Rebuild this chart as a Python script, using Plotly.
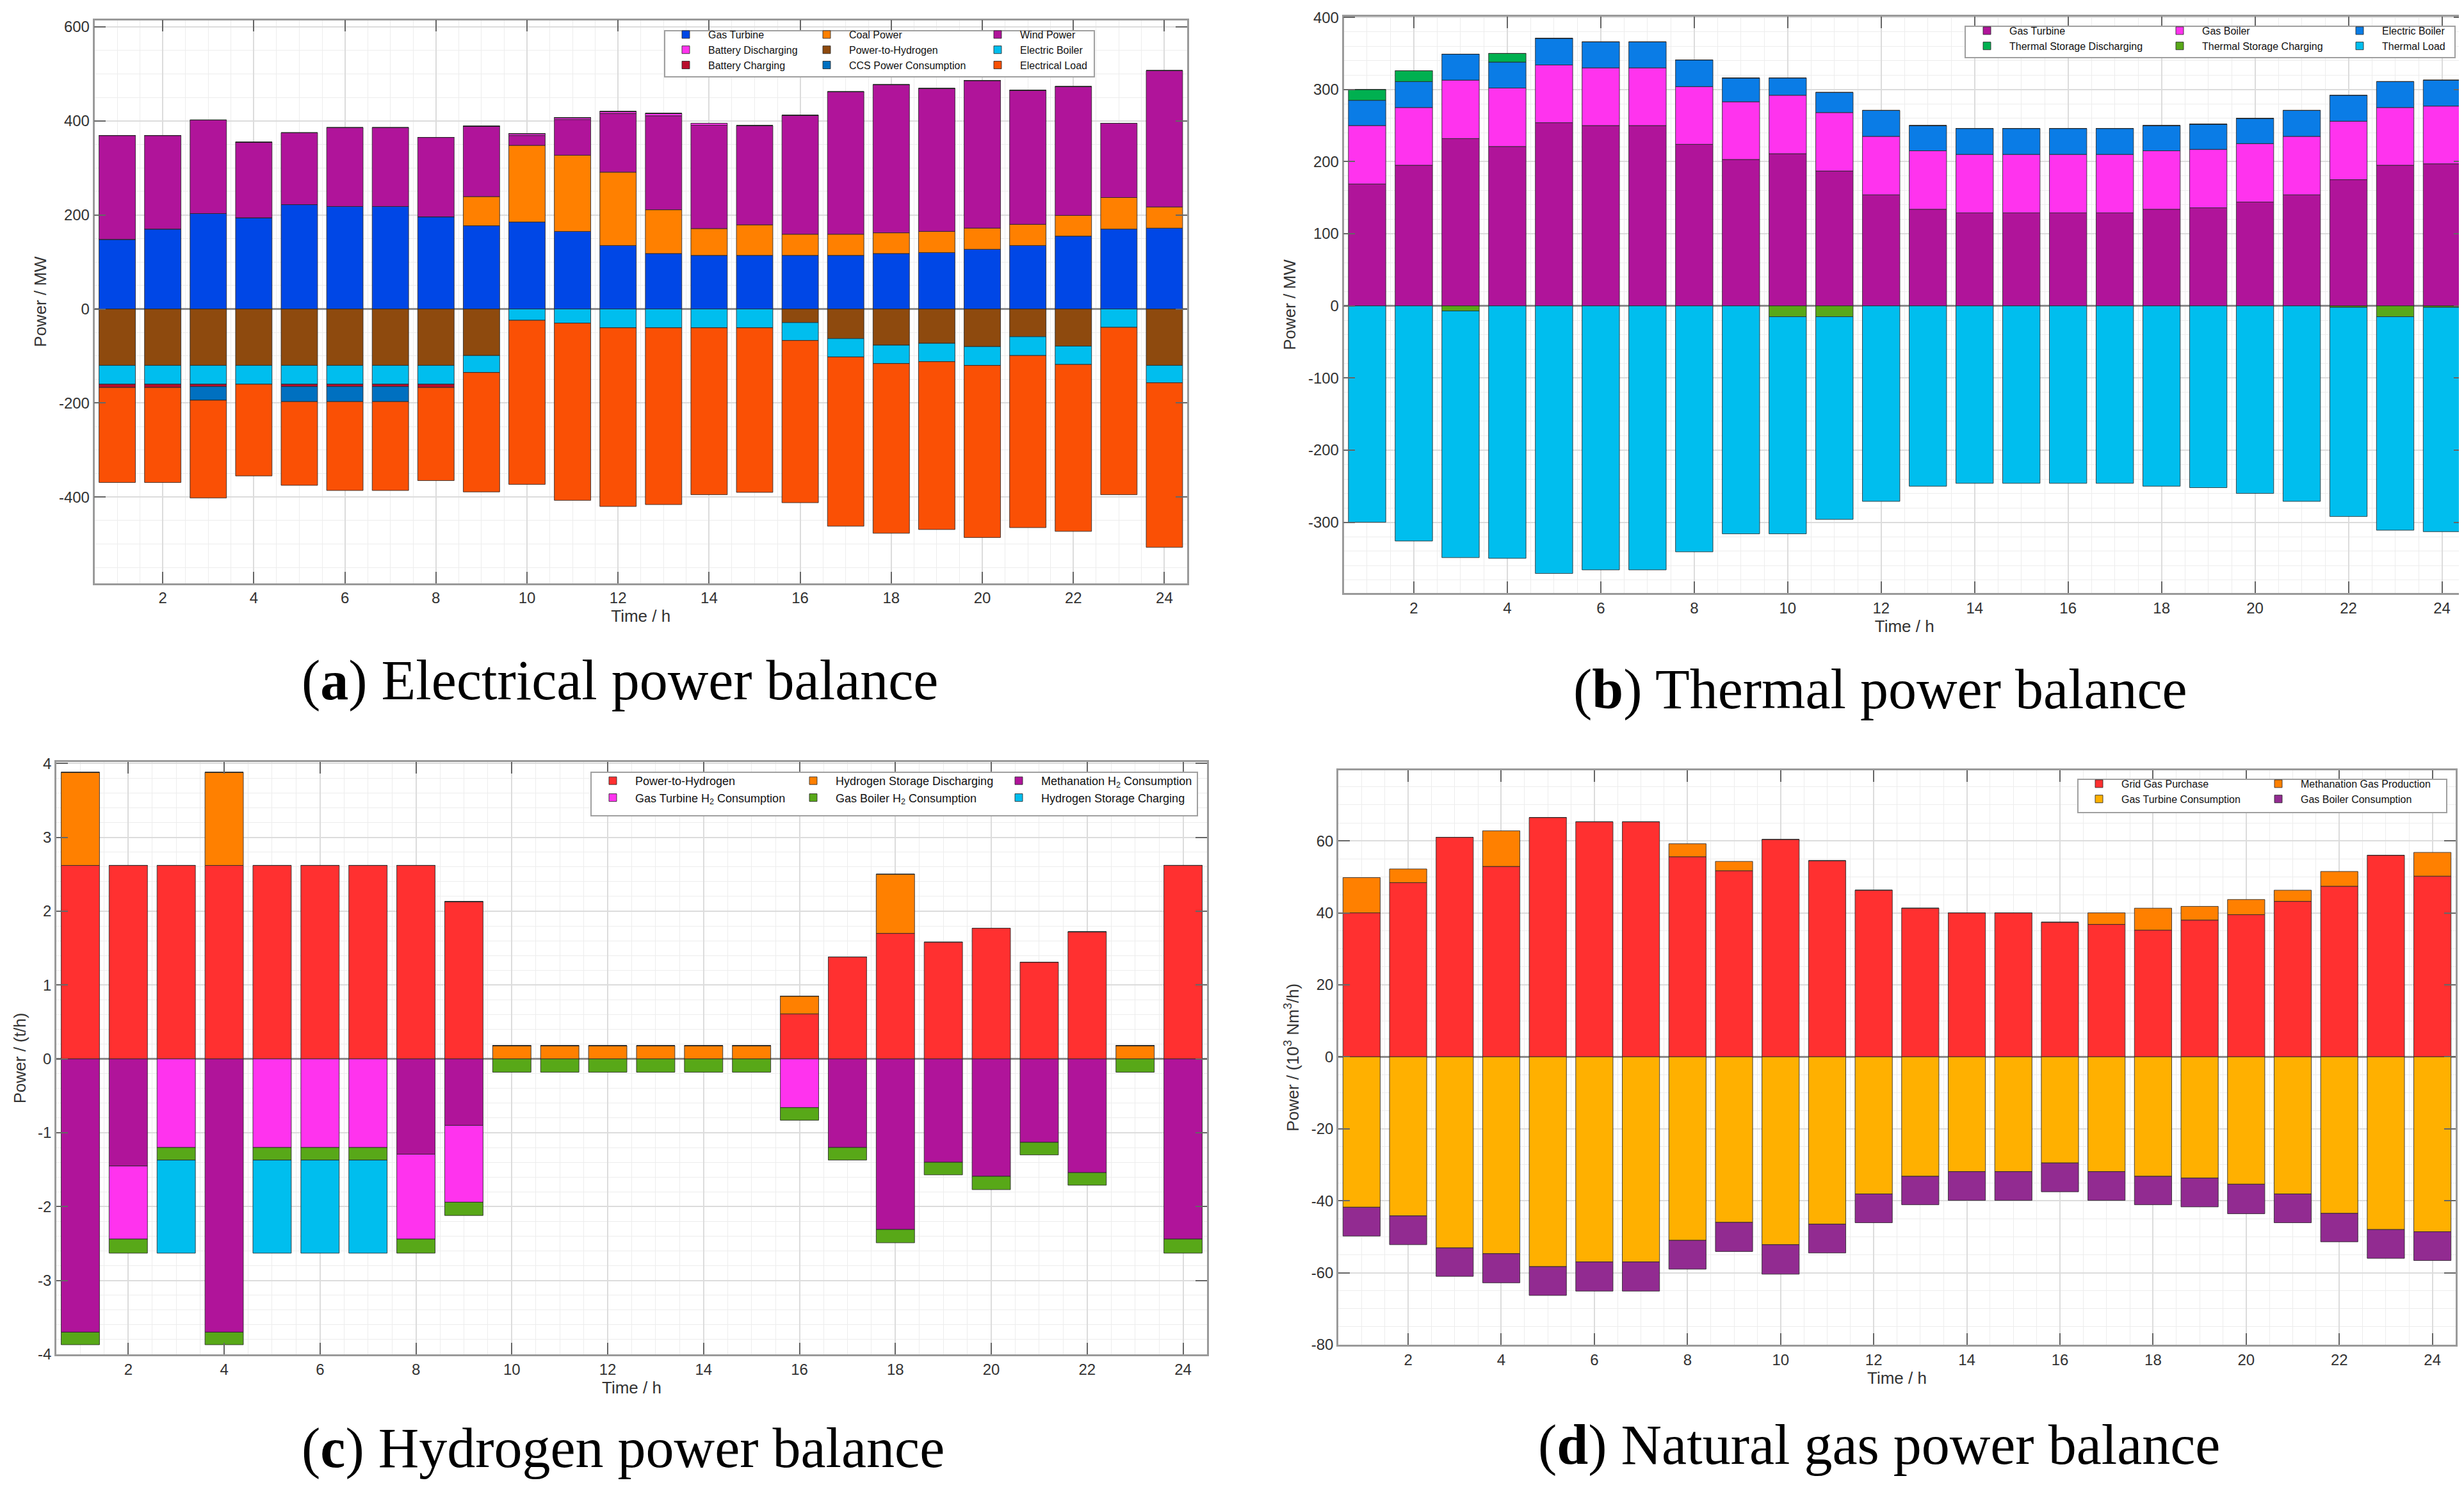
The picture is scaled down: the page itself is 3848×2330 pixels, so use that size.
import plotly.graph_objects as go

# ============================================================================
# DATA  (one value per hour)
# ============================================================================

hours = [1, 2, 3, 4, 5, 6, 7, 8, 9, 10, 11, 12,
         13, 14, 15, 16, 17, 18, 19, 20, 21, 22, 23, 24]
time_ticks = [2, 4, 6, 8, 10, 12, 14, 16, 18, 20, 22, 24]

# (a) Electrical power balance, MW
elec_gas_turbine = [148, 170, 203, 194, 222, 218, 218, 196, 177, 185, 165, 135,
                    118, 114, 114, 114, 114, 118, 120, 127, 135, 155, 170, 172]
elec_coal = [0, 0, 0, 0, 0, 0, 0, 0, 62, 163, 162, 156,
             93, 57, 65, 45, 45, 44, 45, 45, 45, 44, 67, 45]
elec_wind = [221, 199, 199, 161, 153, 168, 168, 169, 150, 21, 76, 125,
             200, 220, 211, 253, 303, 315, 304, 314, 285, 274, 158, 290]
elec_batt_dis = [0, 0, 0, 0, 0, 0, 0, 0, 0, 4, 4, 4,
                 5, 4, 0, 0, 0, 0, 0, 0, 0, 0, 0, 0]
elec_p2h = [-120, -120, -120, -120, -120, -120, -120, -120, -99, 0, 0, 0,
            0, 0, 0, -29, -63, -77, -73, -80, -59, -79, 0, -120]
elec_boiler = [-40, -40, -40, -40, -40, -40, -40, -40, -36, -24, -30, -40,
               -40, -40, -40, -38, -39, -39, -39, -40, -40, -39, -39, -37]
elec_batt_ch = [-7, -7, -5, 0, -5, -5, -5, -7, 0, 0, 0, 0,
                0, 0, 0, 0, 0, 0, 0, 0, 0, 0, 0, 0]
elec_ccs = [0, 0, -29, 0, -32, -32, -32, 0, 0, 0, 0, 0,
            0, 0, 0, 0, 0, 0, 0, 0, 0, 0, 0, 0]
elec_load = [-202, -202, -208, -195, -178, -189, -189, -198, -254, -349, -377, -380,
             -376, -355, -350, -345, -360, -361, -357, -366, -366, -355, -356, -350]
elec_ticks = [-400, -200, 0, 200, 400, 600]

# (b) Thermal power balance, MW
heat_gas_turbine = [169, 195, 232, 221, 254, 250, 250, 224, 203, 211, 187, 154,
                    134, 129, 129, 129, 129, 134, 136, 144, 154, 175, 195, 197]
heat_gas_boiler = [81, 80, 81, 81, 80, 80, 80, 80, 80, 81, 81, 81,
                   81, 81, 81, 81, 81, 81, 81, 81, 81, 81, 80, 80]
heat_elec_boiler = [35, 36, 36, 36, 37, 36, 36, 37, 33, 24, 28, 36,
                    35, 36, 36, 36, 36, 35, 35, 35, 36, 36, 36, 36]
heat_store_dis = [15, 15, 0, 12, 0, 0, 0, 0, 0, 0, 0, 0,
                  0, 0, 0, 0, 0, 0, 0, 0, 0, 0, 0, 0]
heat_store_ch = [0, 0, -7, 0, 0, 0, 0, 0, 0, -15, -15, 0,
                 0, 0, 0, 0, 0, 0, 0, 0, 0, -2, -15, -2]
heat_load = [-300, -326, -342, -350, -371, -366, -366, -341, -316, -301, -281, -271,
             -250, -246, -246, -246, -246, -250, -252, -260, -271, -290, -296, -311]
heat_ticks = [-300, -200, -100, 0, 100, 200, 300, 400]

# (c) Hydrogen power balance, t/h
h2_p2h = [2.62, 2.62, 2.62, 2.62, 2.62, 2.62, 2.62, 2.62, 2.13, 0, 0, 0,
          0, 0, 0, 0.61, 1.38, 1.70, 1.58, 1.77, 1.31, 1.72, 0, 2.62]
h2_store_dis = [1.26, 0, 0, 1.26, 0, 0, 0, 0, 0, 0.18, 0.18, 0.18,
                0.18, 0.18, 0.18, 0.24, 0, 0.80, 0, 0, 0, 0, 0.18, 0]
h2_methanation = [-3.70, -1.45, 0, -3.70, 0, 0, 0, -1.29, -0.90, 0, 0, 0,
                  0, 0, 0, 0, -1.20, -2.31, -1.40, -1.59, -1.13, -1.54, 0, -2.44]
h2_gas_turbine = [0, -0.99, -1.20, 0, -1.20, -1.20, -1.20, -1.15, -1.04, 0, 0, 0,
                  0, 0, 0, -0.66, 0, 0, 0, 0, 0, 0, 0, 0]
h2_gas_boiler = [-0.17, -0.19, -0.17, -0.17, -0.17, -0.17, -0.17, -0.19, -0.18, -0.18, -0.18, -0.18,
                 -0.18, -0.18, -0.18, -0.17, -0.17, -0.18, -0.17, -0.18, -0.17, -0.17, -0.18, -0.19]
h2_store_ch = [0, 0, -1.26, 0, -1.26, -1.26, -1.26, 0, 0, 0, 0, 0,
               0, 0, 0, 0, 0, 0, 0, 0, 0, 0, 0, 0]
h2_ticks = [-4, -3, -2, -1, 0, 1, 2, 3, 4]

# (d) Natural gas power balance, 10^3 Nm3/h
gas_grid = [40.0, 48.4, 61.0, 52.9, 66.5, 65.3, 65.3, 55.6, 51.7, 60.4, 54.5, 46.3,
            41.3, 40.0, 40.0, 37.4, 36.8, 35.2, 38.0, 39.5, 43.2, 47.4, 56.0, 50.2]
gas_methanation = [9.8, 3.8, 0, 9.9, 0, 0, 0, 3.6, 2.6, 0, 0, 0,
                   0, 0, 0, 0, 3.2, 6.1, 3.8, 4.2, 3.1, 4.1, 0, 6.6]
gas_turbine = [-41.8, -44.2, -53.1, -54.7, -58.3, -57.0, -57.0, -51.0, -46.0, -52.2, -46.5, -38.1,
               -33.2, -31.9, -31.9, -29.5, -31.9, -33.2, -33.7, -35.4, -38.1, -43.5, -48.0, -48.6]
gas_boiler = [-8.0, -8.0, -7.9, -8.1, -8.0, -8.1, -8.1, -8.0, -8.1, -8.2, -8.0, -8.0,
              -7.9, -8.0, -8.0, -8.0, -8.0, -7.9, -8.0, -8.2, -8.0, -7.9, -8.0, -8.0]
gas_ticks = [-80, -60, -40, -20, 0, 20, 40, 60]

# ============================================================================
# STYLE
# ============================================================================

W, H = 3848, 2330
SANS = 'Liberation Sans, Arial, sans-serif'
SERIF = 'Liberation Serif, Times New Roman, serif'
TEXT = '#333333'
FRAME = '#9a9a9a'
GRID = '#dcdcdc'
MINOR_GRID = '#ededed'
EDGE = 'rgba(40,40,40,0.85)'

PURPLE = '#b0149a'
MAGENTA = '#ff33ee'
ORANGE = '#ff8000'
RED = '#ff3030'
CYAN = '#00beee'
LEAF = '#58a818'


def px_x(v):
    return v / W


def px_y(v):
    return 1 - v / H


def add_series(fig, n, series, legends):
    """series: list of (name, values, color, legend column)"""
    for name, values, color, col in series:
        fig.add_trace(go.Bar(
            x=hours, y=values, name=name, width=0.8,
            marker=dict(color=color, line=dict(color=EDGE, width=1)),
            xaxis='x' if n == 1 else f'x{n}',
            yaxis='y' if n == 1 else f'y{n}',
            legend=legends[col],
        ))


def x_axis(domain, anchor):
    return dict(
        domain=domain, anchor=anchor, range=[0.5, 24.5],
        tickmode='array', tickvals=time_ticks, ticktext=[str(t) for t in time_ticks],
        showline=True, mirror='ticks', linecolor=FRAME, linewidth=2.5,
        ticks='inside', ticklen=18, tickwidth=2, tickcolor='#666666',
        showgrid=True, gridcolor=GRID, gridwidth=1.5, zeroline=False,
        minor=dict(tick0=0, dtick=0.5, showgrid=True, gridcolor=MINOR_GRID, gridwidth=1),
        tickfont=dict(family=SANS, size=24, color=TEXT),
        title=dict(text='Time / h', font=dict(family=SANS, size=26, color=TEXT), standoff=0),
        automargin=False,
    )


def y_axis(domain, anchor, rng, ticks, minor_step, title):
    return dict(
        domain=domain, anchor=anchor, range=rng,
        tickmode='array', tickvals=ticks, ticktext=[str(t) for t in ticks],
        showline=True, mirror='ticks', linecolor=FRAME, linewidth=2.5,
        ticks='inside', ticklen=18, tickwidth=2, tickcolor='#666666',
        showgrid=True, gridcolor=GRID, gridwidth=1.5,
        zeroline=True, zerolinecolor='#8a8a8a', zerolinewidth=3,
        minor=dict(tick0=0, dtick=minor_step, showgrid=True, gridcolor=MINOR_GRID, gridwidth=1),
        tickfont=dict(family=SANS, size=24, color=TEXT),
        title=dict(text=title, font=dict(family=SANS, size=26, color=TEXT), standoff=12),
        automargin=False,
    )


def legend_col(x, y, size=16):
    return dict(
        x=px_x(x), y=px_y(y), xanchor='left', yanchor='top',
        orientation='v', bgcolor='rgba(0,0,0,0)', borderwidth=0,
        itemwidth=60, itemclick=False,
        font=dict(family=SANS, size=size, color='#111111'),
    )


# ============================================================================
# FIGURE
# ============================================================================

def create_figure():
    fig = go.Figure()

    # (a) electrical: legend columns read row by row
    add_series(fig, 1, [
        ('Gas Turbine', elec_gas_turbine, '#0047e6', 0),
        ('Coal Power', elec_coal, ORANGE, 1),
        ('Wind Power', elec_wind, PURPLE, 2),
        ('Battery Discharging', elec_batt_dis, MAGENTA, 0),
        ('Power-to-Hydrogen', elec_p2h, '#8e4a0e', 1),
        ('Electric Boiler', elec_boiler, CYAN, 2),
        ('Battery Charging', elec_batt_ch, '#b80d2c', 0),
        ('CCS Power Consumption', elec_ccs, '#0070c0', 1),
        ('Electrical Load', elec_load, '#fa5005', 2),
    ], ['legend', 'legend2', 'legend3'])

    # (b) thermal
    add_series(fig, 2, [
        ('Gas Turbine', heat_gas_turbine, PURPLE, 0),
        ('Gas Boiler', heat_gas_boiler, MAGENTA, 1),
        ('Electric Boiler', heat_elec_boiler, '#0a7ce6', 2),
        ('Thermal Storage Discharging', heat_store_dis, '#00b050', 0),
        ('Thermal Storage Charging', heat_store_ch, LEAF, 1),
        ('Thermal Load', heat_load, CYAN, 2),
    ], ['legend4', 'legend5', 'legend6'])

    # (c) hydrogen
    add_series(fig, 3, [
        ('Power-to-Hydrogen', h2_p2h, RED, 0),
        ('Hydrogen Storage Discharging', h2_store_dis, ORANGE, 1),
        ('Methanation H<sub>2</sub> Consumption', h2_methanation, PURPLE, 2),
        ('Gas Turbine H<sub>2</sub> Consumption', h2_gas_turbine, MAGENTA, 0),
        ('Gas Boiler H<sub>2</sub> Consumption', h2_gas_boiler, LEAF, 1),
        ('Hydrogen Storage Charging', h2_store_ch, CYAN, 2),
    ], ['legend7', 'legend8', 'legend9'])

    # (d) natural gas
    add_series(fig, 4, [
        ('Grid Gas Purchase', gas_grid, RED, 0),
        ('Methanation Gas Production', gas_methanation, ORANGE, 1),
        ('Gas Turbine Consumption', gas_turbine, '#ffb000', 0),
        ('Gas Boiler Consumption', gas_boiler, '#922b91', 1),
    ], ['legend10', 'legend11'])

    dom_a = ([px_x(139.5), px_x(1846)], [px_y(902.6), px_y(23.7)])
    dom_b = ([px_x(2090.5), px_x(3842)], [px_y(918), px_y(18)])
    dom_c = ([px_x(80), px_x(1877)], [px_y(2107), px_y(1182)])
    dom_d = ([px_x(2082), px_x(3827)], [px_y(2092), px_y(1195)])

    fig.update_layout(
        width=W, height=H,
        margin=dict(l=0, r=0, t=0, b=0),
        paper_bgcolor='white', plot_bgcolor='white',
        barmode='relative', bargap=0.2,
        showlegend=True,
        xaxis=x_axis(dom_a[0], 'y'),
        yaxis=y_axis(dom_a[1], 'x', [-583, 614], elec_ticks, 50, 'Power / MW'),
        xaxis2=x_axis(dom_b[0], 'y2'),
        yaxis2=y_axis(dom_b[1], 'x2', [-398, 401], heat_ticks, 20, 'Power / MW'),
        xaxis3=x_axis(dom_c[0], 'y3'),
        yaxis3=y_axis(dom_c[1], 'x3', [-4, 4.02], h2_ticks, 0.2, 'Power / (t/h)'),
        xaxis4=x_axis(dom_d[0], 'y4'),
        yaxis4=y_axis(dom_d[1], 'x4', [-80, 79.6], gas_ticks, 5,
                      'Power / (10<sup>3</sup> Nm<sup>3</sup>/h)'),
        legend=legend_col(1028, 29),
        legend2=legend_col(1248, 29),
        legend3=legend_col(1515, 29),
        legend4=legend_col(3060, 23),
        legend5=legend_col(3361, 23),
        legend6=legend_col(3642, 23),
        legend7=legend_col(914, 1193, 18),
        legend8=legend_col(1227, 1193, 18),
        legend9=legend_col(1548, 1193, 18),
        legend10=legend_col(3235, 1199),
        legend11=legend_col(3515, 1199),
    )

    # white legend boxes with a grey frame, one per panel
    for x0, y0, x1, y1 in [(1030, 40, 1701, 112), (3061, 33, 3826, 82),
                           (915, 1198, 1862, 1266), (3237, 1209, 3813, 1261)]:
        fig.add_shape(type='rect', xref='paper', yref='paper',
                      x0=px_x(x0), x1=px_x(x1), y0=px_y(y1), y1=px_y(y0),
                      fillcolor='white', line=dict(color='#a0a0a0', width=2), layer='above')

    # panel captions
    captions = [
        ('(<b>a</b>) Electrical power balance', 960, 1055),
        ('(<b>b</b>) Thermal power balance', 2928, 1068),
        ('(<b>c</b>) Hydrogen power balance', 965, 2253),
        ('(<b>d</b>) Natural gas power balance', 2926, 2248),
    ]
    for text, cx, cy in captions:
        fig.add_annotation(text=text, xref='paper', yref='paper',
                           x=px_x(cx), y=px_y(cy), xanchor='center', yanchor='middle',
                           showarrow=False, font=dict(family=SERIF, size=88, color='black'))

    return fig


if __name__ == '__main__':
    fig = create_figure()
    fig.write_html('out.html')
    print('saved out.html')
